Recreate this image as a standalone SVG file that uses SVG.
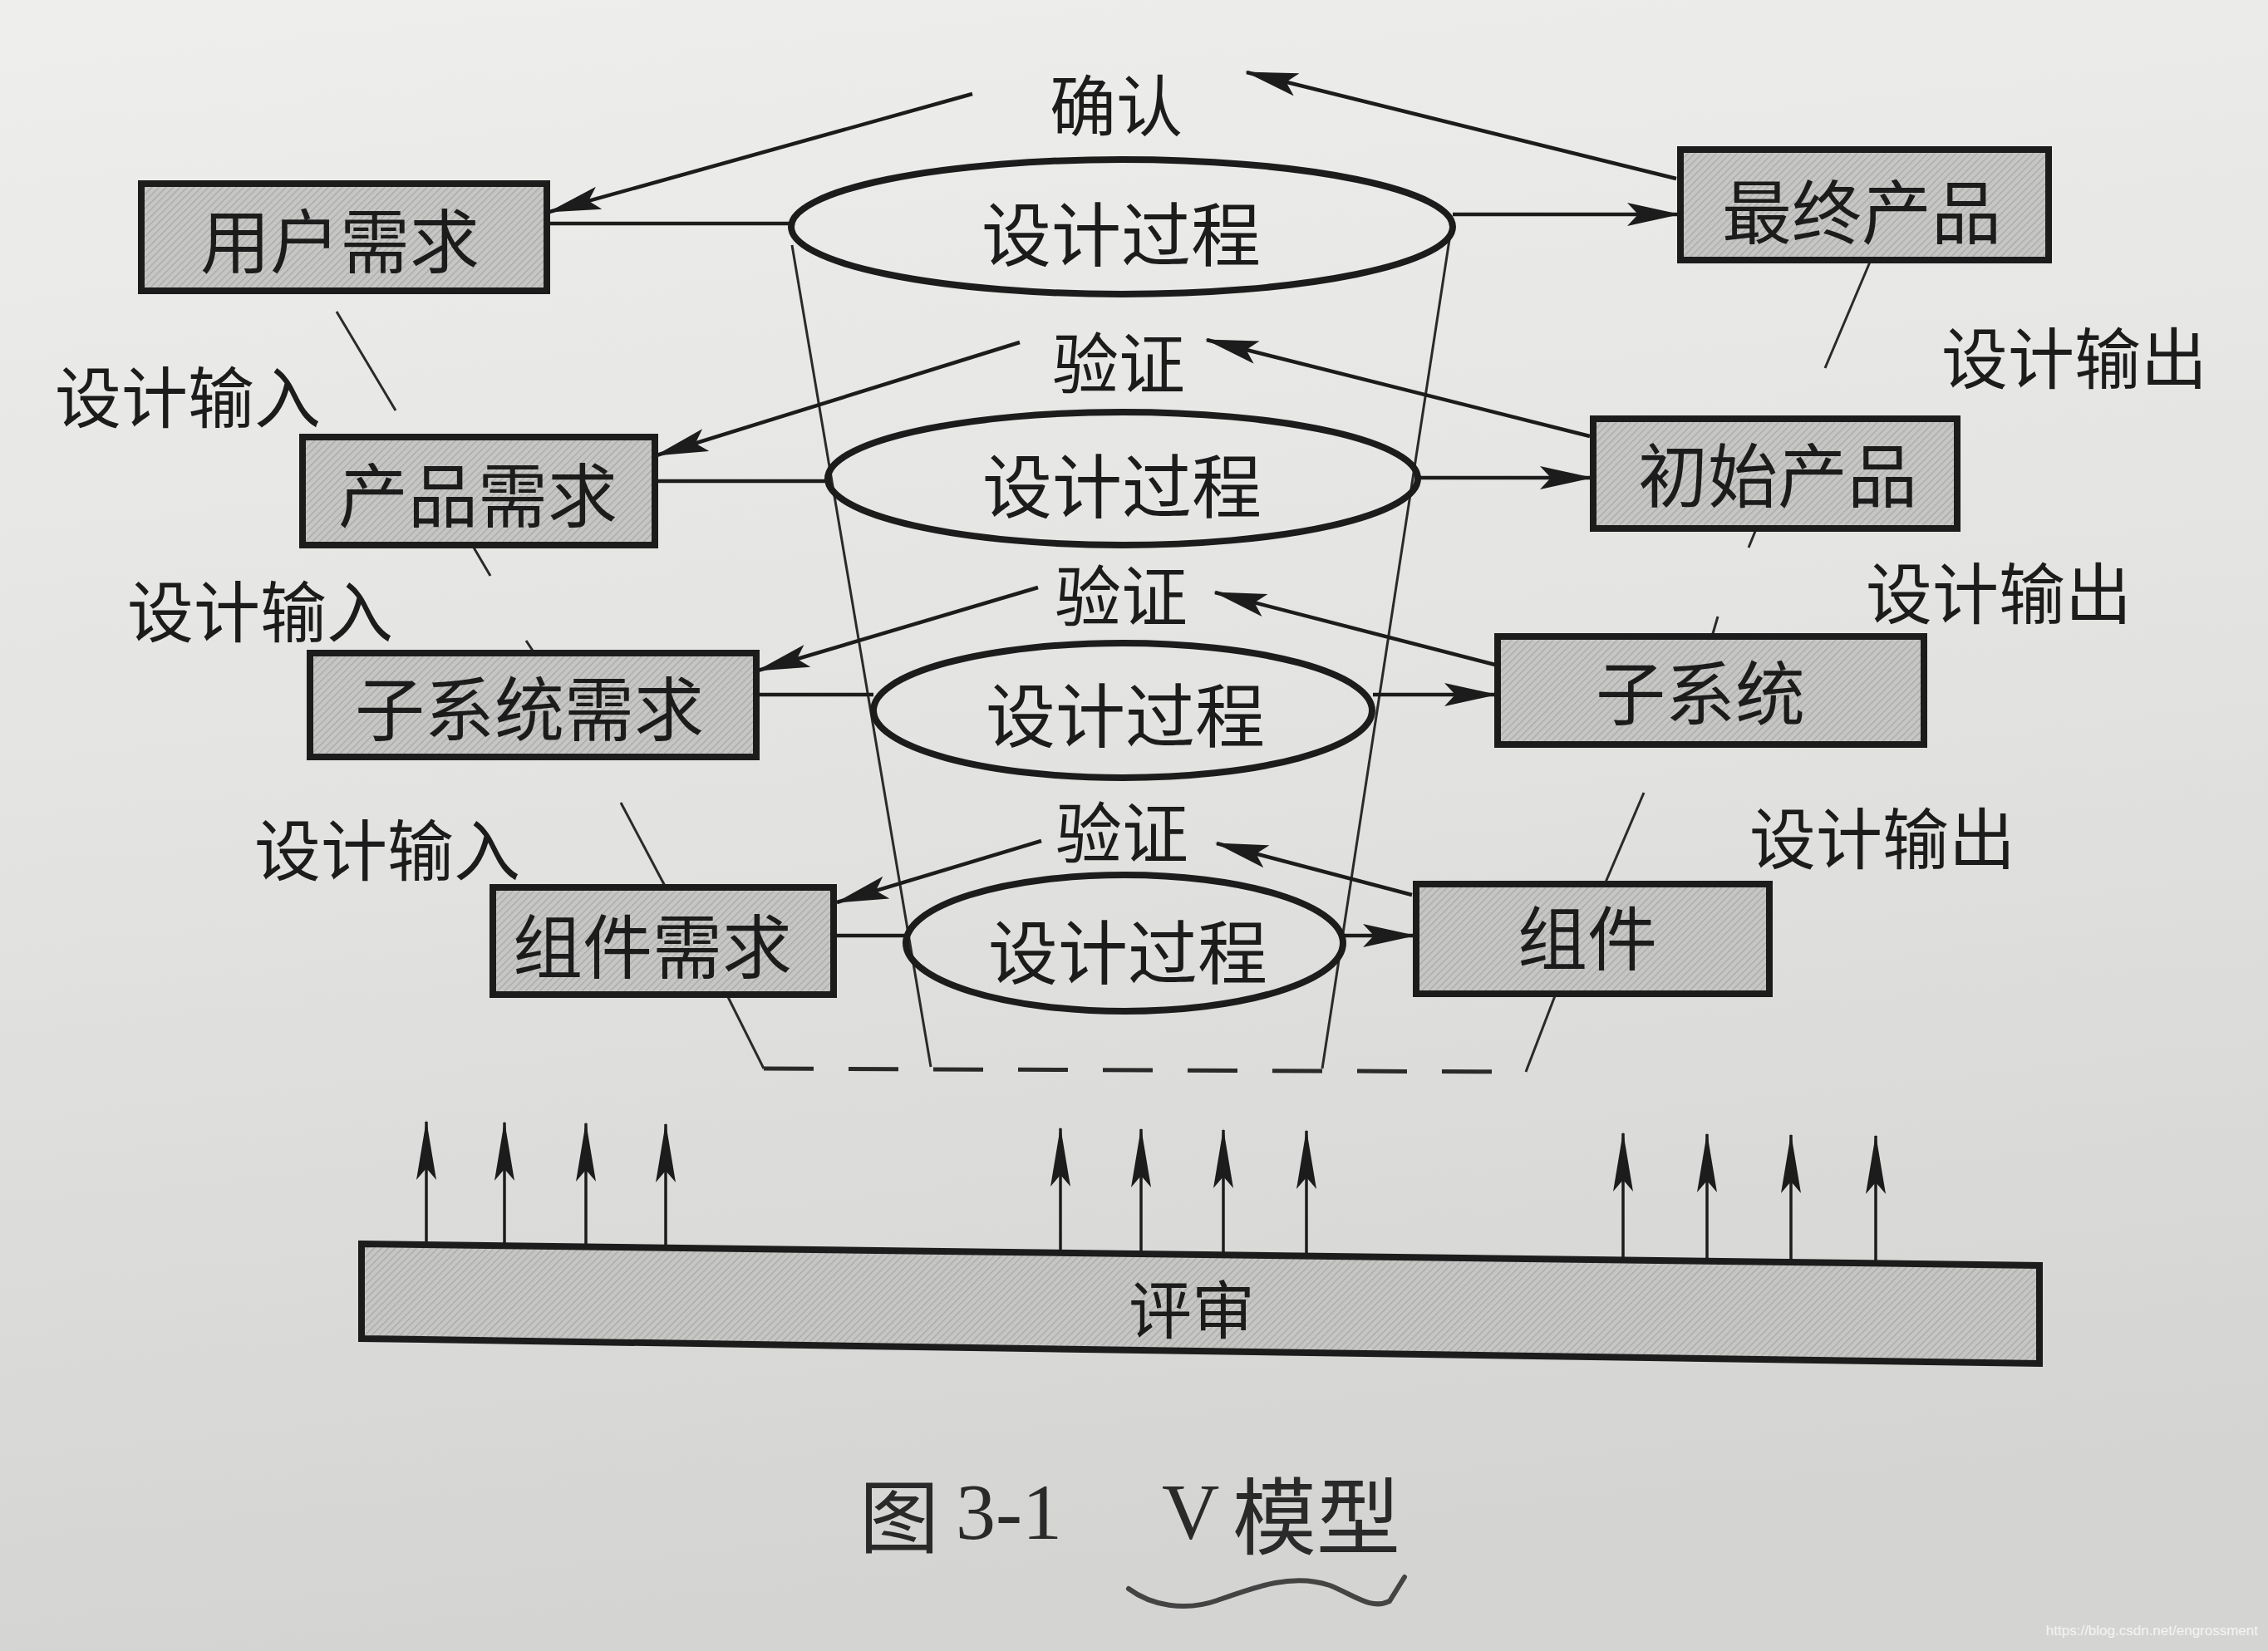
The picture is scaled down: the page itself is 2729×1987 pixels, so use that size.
<svg xmlns="http://www.w3.org/2000/svg" width="2729" height="1987" viewBox="0 0 2729 1987">
<defs>
<linearGradient id="bg" x1="0" y1="0" x2="0.15" y2="1">
<stop offset="0" stop-color="#eeeeec"/>
<stop offset="0.5" stop-color="#e3e3e1"/>
<stop offset="1" stop-color="#d4d4d2"/>
</linearGradient>
<pattern id="hatch" width="6" height="6" patternUnits="userSpaceOnUse" patternTransform="rotate(45)">
<rect width="6" height="6" fill="#c6c6c4"/>
<line x1="0" y1="0" x2="0" y2="6" stroke="#a8a8a6" stroke-width="2.5"/>
</pattern>
<marker id="arr" markerUnits="userSpaceOnUse" markerWidth="66" markerHeight="30" refX="62" refY="14" orient="auto">
<path d="M0,0 L64,14 L0,28 L13,14 Z" fill="#1c1c1c"/>
</marker>
<marker id="up" markerUnits="userSpaceOnUse" markerWidth="72" markerHeight="26" refX="70" refY="12" orient="auto">
<path d="M0,0 L72,12 L0,24 L14,12 Z" fill="#1c1c1c"/>
</marker>
<style>
.box{fill:url(#hatch);stroke:#1c1c1c;stroke-width:8}
.ell{fill:none;stroke:#1c1c1c;stroke-width:8}
.t{font-family:"Noto Sans CJK SC","Noto Sans CJK TC",sans-serif;fill:#1c1c1c;text-anchor:middle;dominant-baseline:central}
.bt{font-size:84px}
.lb{font-size:80px}
.con{stroke:#1c1c1c;stroke-width:4.5;fill:none}
.arw{stroke:#1c1c1c;stroke-width:4.5;fill:none;marker-end:url(#arr)}
.thin{stroke:#2a2a2a;stroke-width:3;fill:none}
.uparr{stroke:#1c1c1c;stroke-width:3.5;fill:none;marker-end:url(#up)}
</style>
</defs>
<rect width="2729" height="1987" fill="url(#bg)"/>

<g id="connectors">
<!-- funnel -->
<line class="thin" x1="953" y1="295" x2="1120" y2="1284"/>
<line class="thin" x1="1745" y1="282" x2="1591" y2="1286"/>
<!-- horizontal links -->
<line class="con" x1="658" y1="269" x2="952" y2="269"/>
<line class="arw" x1="1748" y1="258" x2="2020" y2="258"/>
<line class="con" x1="788" y1="579" x2="996" y2="579"/>
<line class="arw" x1="1706" y1="575" x2="1915" y2="575"/>
<line class="con" x1="910" y1="836" x2="1051" y2="836"/>
<line class="arw" x1="1652" y1="836" x2="1800" y2="836"/>
<line class="con" x1="1003" y1="1126" x2="1090" y2="1126"/>
<line class="arw" x1="1616" y1="1126" x2="1702" y2="1126"/>
<!-- diagonal arrows -->
<line class="arw" x1="1170" y1="113" x2="661" y2="255"/>
<line class="arw" x1="2017" y1="215" x2="1500" y2="87"/>
<line class="arw" x1="1227" y1="412" x2="790" y2="548"/>
<line class="arw" x1="1913" y1="525" x2="1452" y2="409"/>
<line class="arw" x1="1249" y1="707" x2="912" y2="807"/>
<line class="arw" x1="1799" y1="800" x2="1462" y2="713"/>
<line class="arw" x1="1253" y1="1012" x2="1007" y2="1086"/>
<line class="arw" x1="1699" y1="1077" x2="1464" y2="1015"/>
<!-- annotation ticks -->
<line class="thin" x1="405" y1="375" x2="476" y2="494"/>
<line class="thin" x1="570" y1="659" x2="590" y2="693"/>
<line class="thin" x1="633" y1="771" x2="643" y2="786"/>
<line class="thin" x1="747" y1="966" x2="801" y2="1068"/>
<line class="thin" x1="2251" y1="313" x2="2196" y2="443"/>
<line class="thin" x1="2113" y1="637" x2="2104" y2="659"/>
<line class="thin" x1="2067" y1="742" x2="2060" y2="766"/>
<line class="thin" x1="1978" y1="954" x2="1931" y2="1064"/>
<!-- bottom dashed closure -->
<line class="thin" x1="875" y1="1198" x2="919" y2="1286"/>
<line class="thin" x1="1872" y1="1196" x2="1836" y2="1290"/>
<line stroke="#2a2a2a" stroke-width="5" stroke-dasharray="60 42" x1="919" y1="1286" x2="1836" y2="1290"/>
<!-- review arrows -->
<line class="uparr" x1="513" y1="1498" x2="513" y2="1350"/>
<line class="uparr" x1="607" y1="1499" x2="607" y2="1351"/>
<line class="uparr" x1="705" y1="1500" x2="705" y2="1352"/>
<line class="uparr" x1="801" y1="1502" x2="801" y2="1353"/>
<line class="uparr" x1="1276" y1="1508" x2="1276" y2="1358"/>
<line class="uparr" x1="1373" y1="1509" x2="1373" y2="1359"/>
<line class="uparr" x1="1472" y1="1510" x2="1472" y2="1360"/>
<line class="uparr" x1="1572" y1="1512" x2="1572" y2="1361"/>
<line class="uparr" x1="1953" y1="1517" x2="1953" y2="1364"/>
<line class="uparr" x1="2054" y1="1518" x2="2054" y2="1365"/>
<line class="uparr" x1="2155" y1="1520" x2="2155" y2="1366"/>
<line class="uparr" x1="2257" y1="1521" x2="2257" y2="1367"/>
</g>

<g id="ellipse1"><ellipse class="ell" cx="1350" cy="273" rx="398" ry="81"/><text class="t bt" x="1349" y="277">设计过程</text></g>
<g id="ellipse2"><ellipse class="ell" cx="1351" cy="576" rx="355" ry="80"/><text class="t bt" x="1350" y="580">设计过程</text></g>
<g id="ellipse3"><ellipse class="ell" cx="1351" cy="855" rx="300" ry="81"/><text class="t bt" x="1354" y="856">设计过程</text></g>
<g id="ellipse4"><ellipse class="ell" cx="1353" cy="1135" rx="263" ry="82"/><text class="t bt" x="1357" y="1141">设计过程</text></g>

<g id="user-req"><rect class="box" x="170" y="221" width="488" height="129"/><text class="t bt" x="409" y="285">用户需求</text></g>
<g id="product-req"><rect class="box" x="364" y="526" width="424" height="130"/><text class="t bt" x="575" y="591">产品需求</text></g>
<g id="subsystem-req"><rect class="box" x="373" y="786" width="537" height="125"/><text class="t bt" x="637" y="848">子系统需求</text></g>
<g id="component-req"><rect class="box" x="593" y="1068" width="410" height="129"/><text class="t bt" x="785" y="1134">组件需求</text></g>
<g id="final-product"><rect class="box" x="2022" y="180" width="443" height="133"/><text class="t bt" x="2240" y="250">最终产品</text></g>
<g id="initial-product"><rect class="box" x="1917" y="504" width="438" height="132"/><text class="t bt" x="2139" y="567">初始产品</text></g>
<g id="subsystem"><rect class="box" x="1802" y="766" width="513" height="130"/><text class="t bt" x="2046" y="829">子系统</text></g>
<g id="component"><rect class="box" x="1704" y="1064" width="425" height="132"/><text class="t bt" x="1910" y="1124">组件</text></g>

<g id="labels">
<text class="t lb" x="1343" y="122">确认</text>
<text class="t lb" x="1346" y="432">验证</text>
<text class="t lb" x="1349" y="712">验证</text>
<text class="t lb" x="1350" y="997">验证</text>
<text class="t lb" x="226" y="473">设计输入</text>
<text class="t lb" x="313" y="731">设计输入</text>
<text class="t lb" x="466" y="1018">设计输入</text>
<text class="t lb" x="2496" y="426">设计输出</text>
<text class="t lb" x="2405" y="709">设计输出</text>
<text class="t lb" x="2265" y="1004">设计输出</text>
</g>

<g id="review">
<polygon points="435,1497 2454,1523 2454,1641 435,1611" fill="url(#hatch)" stroke="#1c1c1c" stroke-width="8"/>
<text class="t" font-size="76" x="1434" y="1572">评审</text>
</g>

<g id="caption">
<text font-family="'Liberation Serif','Noto Sans CJK SC',serif" font-size="96" fill="#2a2a2a" dominant-baseline="central" y="1819"><tspan x="1034" font-family="'Noto Sans CJK SC',serif">图</tspan><tspan x="1150">3-1</tspan><tspan x="1398">V</tspan><tspan x="1483" font-size="101" font-family="'Noto Sans CJK SC',serif">模型</tspan></text>
<path d="M1358,1912 C1385,1932 1425,1940 1465,1926 C1510,1910 1555,1893 1600,1908 C1630,1920 1650,1938 1672,1927 L1690,1898" fill="none" stroke="#444" stroke-width="6" stroke-linecap="round"/>
</g>

<text x="2717" y="1968" font-family="'Liberation Sans',sans-serif" font-size="17" fill="#f4f4f4" text-anchor="end">https://blog.csdn.net/engrossment</text>
</svg>
